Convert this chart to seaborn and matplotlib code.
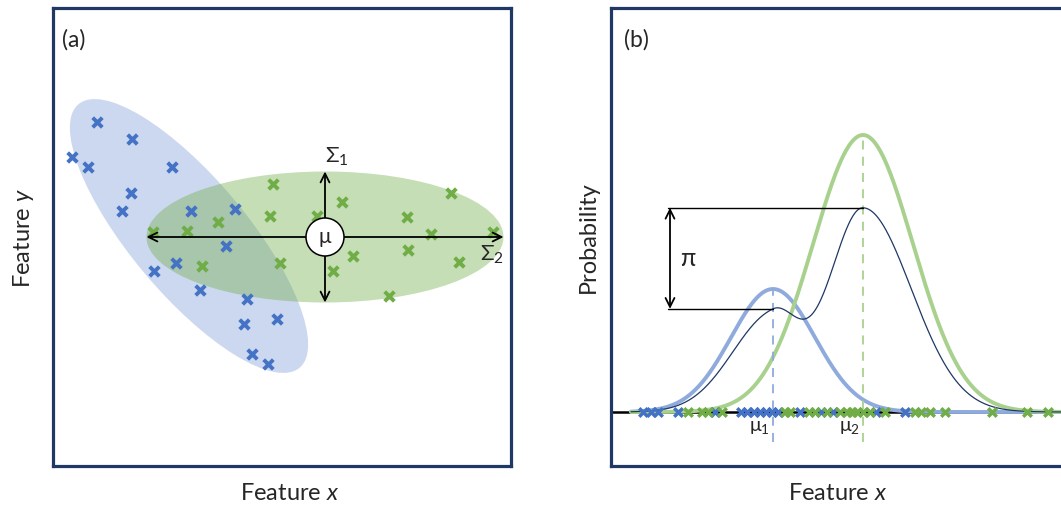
import numpy as np
import pandas as pd
import matplotlib
matplotlib.use("Agg")
import matplotlib.pyplot as plt
import seaborn as sns
from matplotlib.patches import Ellipse, Circle

# ---------------- Panel (a): 2-D samples ----------------
blue_x = [44, 79, 19, 35, 119, 78, 69, 138, 182, 173, 123, 101, 147, 194, 224, 191, 199, 215]
blue_y = [344, 327, 309, 299, 299, 273, 255, 255, 257, 220, 203, 195, 176, 167, 147, 142, 112, 102]
green_x = [220, 217, 165, 134, 149, 227, 264, 289, 280, 300, 336, 354, 355, 378, 398, 406, 440, 100]
green_y = [282, 250, 244, 235, 200, 203, 250, 264, 195, 210, 170, 249, 216, 232, 273, 204, 234, 234]

# covariance ellipses: centre x, centre y, width, height, angle
blue_ell = [136, 230, 344, 116, -50]
green_ell = [272, 229, 357, 131, 0]

# ---------------- Panel (b): 1-D mixture ----------------
blue_1d = [32, 40, 47, 67, 104, 130, 136, 143, 149, 155, 161, 167, 189, 210, 222, 265, 294]
green_1d = [77, 91, 97, 111, 174, 179, 198, 204, 216, 229, 236, 241, 246, 252, 259, 274,
            304, 310, 319, 334, 381, 416, 437]
comp_mu = [162, 252]
comp_sigma = [42, 50]
comp_peak = [123, 277]
mix_peak = [97, 204]
mix_sigma_left = [41, 34]
mix_sigma_right = [26, 48]

BLUE = "#4472C4"
GREEN = "#70AD47"
LBLUE = "#8FAADC"
LGREEN = "#A9D18E"
NAVY = "#1F3864"

sns.set_style("white")
plt.rcParams["font.family"] = ["Lato", "DejaVu Sans"]
plt.rcParams["mathtext.fontset"] = "custom"
plt.rcParams["mathtext.rm"] = "Lato"
plt.rcParams["mathtext.it"] = "Lato:italic"

W, H = 1061, 511
fig = plt.figure(figsize=(W / 100, H / 100), dpi=100)

def frac(px_left, px_top, px_right, px_bottom):
    return [px_left / W, 1 - px_bottom / H, (px_right - px_left) / W, (px_bottom - px_top) / H]

ax_a = fig.add_axes(frac(53, 8, 511, 466))
ax_b = fig.add_axes(frac(611, 8, 1069, 466))

for ax in (ax_a, ax_b):
    ax.set_xticks([])
    ax.set_yticks([])
    for sp in ax.spines.values():
        sp.set_visible(True)
        sp.set_color(NAVY)
        sp.set_linewidth(2.3)

# ---- panel (a)
ax_a.set_xlim(0, 458)
ax_a.set_ylim(0, 458)
ax_a.add_patch(Ellipse((blue_ell[0], blue_ell[1]), blue_ell[2], blue_ell[3], angle=blue_ell[4],
                       facecolor=BLUE, alpha=0.27, edgecolor="none", zorder=1))
ax_a.add_patch(Ellipse((green_ell[0], green_ell[1]), green_ell[2], green_ell[3], angle=green_ell[4],
                       facecolor=GREEN, alpha=0.40, edgecolor="none", zorder=2))

sns.scatterplot(x=green_x, y=green_y, marker="x", color=GREEN, s=48, linewidth=2.8, ax=ax_a, zorder=3)
sns.scatterplot(x=blue_x, y=blue_y, marker="x", color=BLUE, s=48, linewidth=2.8, ax=ax_a, zorder=3)

cx, cy = green_ell[0], green_ell[1]
hw, hh = green_ell[2] / 2, green_ell[3] / 2
arrow_kw = dict(arrowstyle="->", color="black", lw=1.3, mutation_scale=16, shrinkA=0, shrinkB=0)
for dx, dy in [(-hw, 0), (hw, 0), (0, hh), (0, -hh)]:
    ax_a.annotate("", xy=(cx + dx, cy + dy), xytext=(cx, cy), arrowprops=arrow_kw, zorder=4)
ax_a.add_patch(Circle((cx, cy), 19, facecolor="white", edgecolor="black", lw=1.1, zorder=5))
ax_a.text(cx, cy, "μ", ha="center", va="center", fontsize=15, zorder=6)
ax_a.text(cx + 12, cy + hh + 15, "Σ$_1$", ha="center", va="center", fontsize=16)
ax_a.text(cx + hw - 12, cy - 18, "Σ$_2$", ha="center", va="center", fontsize=16)
ax_a.text(0.02, 0.93, "(a)", transform=ax_a.transAxes, ha="left", va="center", fontsize=16.5)

# ---- panel (b)
ax_b.set_xlim(0, 458)
ax_b.set_ylim(-54, 404)
ax_b.axhline(0, color="black", lw=1.8, zorder=1)

xs = np.linspace(20, 458, 700)
def split_gauss(x, mu, peak, sl, sr):
    s = np.where(x < mu, sl, sr)
    return peak * np.exp(-0.5 * ((x - mu) / s) ** 2)

blue_curve = split_gauss(xs, comp_mu[0], comp_peak[0], comp_sigma[0], comp_sigma[0])
green_curve = split_gauss(xs, comp_mu[1], comp_peak[1], comp_sigma[1], comp_sigma[1])
mix_curve = (split_gauss(xs, comp_mu[0], mix_peak[0], mix_sigma_left[0], mix_sigma_right[0]) +
             split_gauss(xs, comp_mu[1], mix_peak[1], mix_sigma_left[1], mix_sigma_right[1]))

df = pd.DataFrame({"x": xs, "blue": blue_curve, "green": green_curve, "mix": mix_curve})
sns.lineplot(data=df, x="x", y="blue", color=LBLUE, lw=2.8, ax=ax_b, zorder=2)
sns.lineplot(data=df, x="x", y="green", color=LGREEN, lw=2.8, ax=ax_b, zorder=2)
sns.lineplot(data=df, x="x", y="mix", color=NAVY, lw=0.9, ax=ax_b, zorder=3)

for mu, peak, col in zip(comp_mu, comp_peak, [LBLUE, LGREEN]):
    ax_b.plot([mu, mu], [-30, peak], color=col, lw=1.3, ls=(0, (5, 4)), zorder=2)

# pi annotation
mix_at_mu = [np.interp(m, xs, mix_curve) for m in comp_mu]
x_pi = 57
ax_b.plot([x_pi, comp_mu[1]], [mix_at_mu[1], mix_at_mu[1]], color="black", lw=1.0, zorder=3)
ax_b.plot([x_pi, comp_mu[0]], [mix_at_mu[0], mix_at_mu[0]], color="black", lw=1.0, zorder=3)
ax_b.annotate("", xy=(x_pi + 2, mix_at_mu[1]), xytext=(x_pi + 2, mix_at_mu[0]),
              arrowprops=dict(arrowstyle="<->", color="black", lw=1.3, mutation_scale=16,
                              shrinkA=0, shrinkB=0))
ax_b.text(x_pi + 12, (mix_at_mu[0] + mix_at_mu[1]) / 2, "π", ha="left", va="center", fontsize=18)

sns.scatterplot(x=blue_1d, y=[0] * len(blue_1d), marker="x", color=BLUE, s=38, linewidth=2.5,
                ax=ax_b, zorder=4, clip_on=False)
sns.scatterplot(x=green_1d, y=[0] * len(green_1d), marker="x", color=GREEN, s=38, linewidth=2.5,
                ax=ax_b, zorder=4, clip_on=False)

ax_b.text(comp_mu[0] - 3, -16, "μ$_1$", ha="right", va="center", fontsize=14)
ax_b.text(comp_mu[1] - 3, -16, "μ$_2$", ha="right", va="center", fontsize=14)
ax_b.text(0.028, 0.93, "(b)", transform=ax_b.transAxes, ha="left", va="center", fontsize=16.5)

for ax in (ax_a, ax_b):
    ax.set_xlabel("")
    ax.set_ylabel("")

# axis titles
fig.text(290 / W, 1 - 494 / H, "Feature $\\mathit{x}$", ha="center", va="center", fontsize=17)
fig.text(838 / W, 1 - 494 / H, "Feature $\\mathit{x}$", ha="center", va="center", fontsize=17)
fig.text(23 / W, 1 - 238 / H, "Feature $\\mathit{y}$", ha="center", va="center", fontsize=17, rotation=90)
fig.text(588 / W, 1 - 237 / H, "Probability", ha="center", va="center", fontsize=17, rotation=90)

fig.savefig("out.png", dpi=100)
